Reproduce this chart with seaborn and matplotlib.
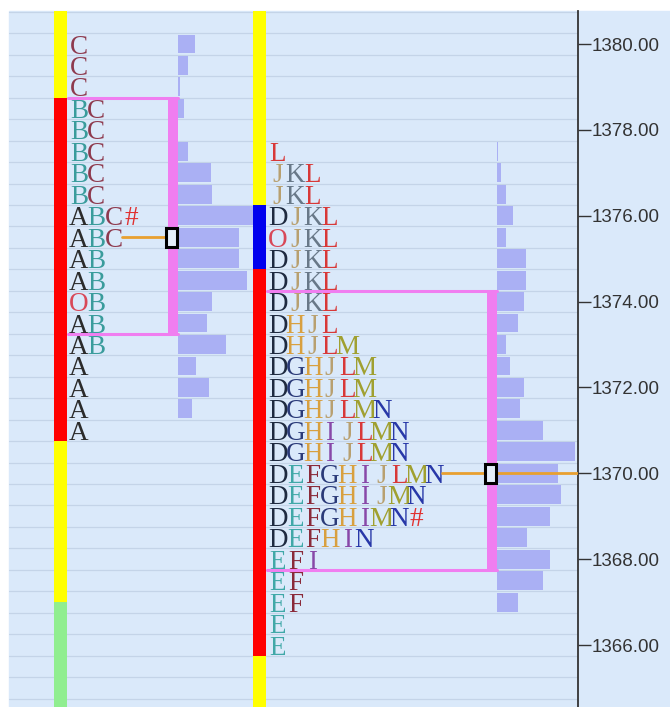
import matplotlib.pyplot as plt
import seaborn as sns
from matplotlib.patches import Rectangle
from matplotlib.ticker import MultipleLocator, FormatStrFormatter

# ---- data ----
# left profile (letters A-C, O = open)
p1_prices = [1380.0, 1379.5, 1379.0, 1378.5, 1378.0, 1377.5, 1377.0, 1376.5, 1376.0, 1375.5,
             1375.0, 1374.5, 1374.0, 1373.5, 1373.0, 1372.5, 1372.0, 1371.5, 1371.0]
p1_rows = ["C", "C", "C", "BC", "BC", "BC", "BC", "BC", "ABC#", "ABC",
           "AB", "AB", "OB", "AB", "AB", "A", "A", "A", "A"]
p1_volume = [17, 10, 2, 6, 0, 10, 33, 34, 84, 61, 61, 69, 34, 29, 48, 18, 31, 14, 0]
p1_value_area = (1378.75, 1373.25)
p1_poc = 1375.5
p1_bar = [(1381.0, 1378.75, "#ffff00"), (1378.75, 1370.75, "#ff0000"),
          (1370.75, 1367.0, "#ffff00"), (1367.0, 1364.0, "#90ee90")]

# right profile (letters D-N)
p2_prices = [1377.5, 1377.0, 1376.5, 1376.0, 1375.5, 1375.0, 1374.5, 1374.0, 1373.5, 1373.0,
             1372.5, 1372.0, 1371.5, 1371.0, 1370.5, 1370.0, 1369.5, 1369.0, 1368.5, 1368.0,
             1367.5, 1367.0, 1366.5, 1366.0]
p2_rows = ["L", "JKL", "JKL", "DJKL", "OJKL", "DJKL", "DJKL", "DJKL", "DHJL", "DHJLM",
           "DGHJLM", "DGHJLM", "DGHJLMN", "DGHIJLMN", "DGHIJLMN", "DEFGHIJLMN", "DEFGHIJMN",
           "DEFGHIMN#", "DEFHIN", "EFI", "EF", "EF", "E", "E"]
p2_volume = [1, 4, 9, 16, 9, 29, 29, 27, 21, 9, 13, 27, 23, 46, 78, 61, 64, 53, 30, 53,
             46, 21, 0, 0]
p2_value_area = (1374.25, 1367.75)
p2_poc = 1370.0
p2_bar = [(1381.0, 1376.25, "#ffff00"), (1376.25, 1374.75, "#0000ee"),
          (1374.75, 1365.75, "#ff0000"), (1365.75, 1364.0, "#ffff00")]

y_ticks = [1366, 1368, 1370, 1372, 1374, 1376, 1378, 1380]

letter_colors = {
    "A": "#2b2b2b", "B": "#3a9c9c", "C": "#8e3a4e", "D": "#1e2a40", "E": "#40a8a8",
    "F": "#8a2a3a", "G": "#2a3a78", "H": "#d8a040", "I": "#8848a8", "J": "#b8a070",
    "K": "#687888", "L": "#d83838", "M": "#a0a030", "N": "#2838a8", "O": "#d84858",
    "#": "#e03030",
}

BG = "#dae9fa"
PINK = "#f07ef0"
ORANGE = "#e8a030"
HIST = "#aab0f4"

# x axis is in picture pixels
profiles = [
    dict(prices=p1_prices, rows=p1_rows, volume=p1_volume, va=p1_value_area, poc=p1_poc,
         bar=p1_bar, bar_x=61, va_x=68, letter_x=79, col=17.4, hist_x=178, poc_end=166),
    dict(prices=p2_prices, rows=p2_rows, volume=p2_volume, va=p2_value_area, poc=p2_poc,
         bar=p2_bar, bar_x=259.5, va_x=267, letter_x=278, col=17.3, hist_x=497, poc_end=578),
]

sns.set_theme(style="white", rc={"axes.facecolor": BG})

fig = plt.figure(figsize=(6.7, 7.07), dpi=100, facecolor="white")
fig.patches.append(Rectangle((9 / 670, 0), 1, 1 - 11 / 707, transform=fig.transFigure,
                             color=BG, zorder=-5))
ax = fig.add_axes([9 / 670, 0, 569 / 670, 1 - 11 / 707])
ax.set_zorder(1)

for p in profiles:
    # volume histogram
    ax.barh(p["prices"], p["volume"], left=p["hist_x"], height=0.44, color=HIST,
            linewidth=0, edgecolor="none", zorder=1)

    # value area box
    top, bot = p["va"]
    ax.plot([p["va_x"], p["hist_x"]], [top, top], color=PINK, lw=2.2, zorder=2)
    ax.plot([p["va_x"], p["hist_x"]], [bot, bot], color=PINK, lw=2.2, zorder=2)
    ax.add_patch(Rectangle((p["hist_x"] - 10, bot), 10, top - bot, color=PINK, lw=0, zorder=2))

    # period range bar
    for hi, lo, c in p["bar"]:
        ax.bar(p["bar_x"], hi - lo, bottom=lo, width=13, color=c, lw=0, zorder=3)

    # TPO letters
    for price, row in zip(p["prices"], p["rows"]):
        for i, ch in enumerate(row):
            ax.text(p["letter_x"] + i * p["col"], price, ch, color=letter_colors[ch],
                    fontsize=19.5, family=["Liberation Serif", "DejaVu Serif"], ha="center",
                    va="center_baseline", zorder=4)

    # point of control
    poc_row = p["rows"][p["prices"].index(p["poc"])].rstrip("#")
    x_start = p["letter_x"] - p["col"] / 2 + len(poc_row) * p["col"]
    ax.plot([x_start, p["poc_end"]], [p["poc"], p["poc"]], color=ORANGE, lw=2, zorder=5)
    ax.add_patch(Rectangle((p["hist_x"] - 12, p["poc"] - 0.22), 11, 0.44,
                           facecolor="#e4eefa", edgecolor="black", lw=2.2, zorder=6))

ax.set_xlim(9, 578)
ax.set_ylim(1364.556, 1380.769)

ax.yaxis.tick_right()
ax.set_yticks(y_ticks)
ax.yaxis.set_major_formatter(FormatStrFormatter("%.2f"))
ax.yaxis.set_minor_locator(MultipleLocator(0.5, offset=0.25))
ax.set_xticks([])
ax.grid(False)
ax.grid(which="minor", axis="y", color="#c4d4e8", lw=0.9, zorder=0)
ax.set_axisbelow(True)
ax.tick_params(axis="y", which="major", right=True, length=9, width=1, color="#333333",
               pad=1, labelsize=13.5, labelcolor="#333333")
ax.tick_params(axis="y", which="minor", length=0)
for lbl in ax.get_yticklabels():
    lbl.set_family("Liberation Sans")

for side in ["top", "left", "bottom"]:
    ax.spines[side].set_visible(False)
ax.spines["right"].set_color("#333333")
ax.spines["right"].set_linewidth(1.3)

fig.savefig("out.png", dpi=100, facecolor=fig.get_facecolor())
